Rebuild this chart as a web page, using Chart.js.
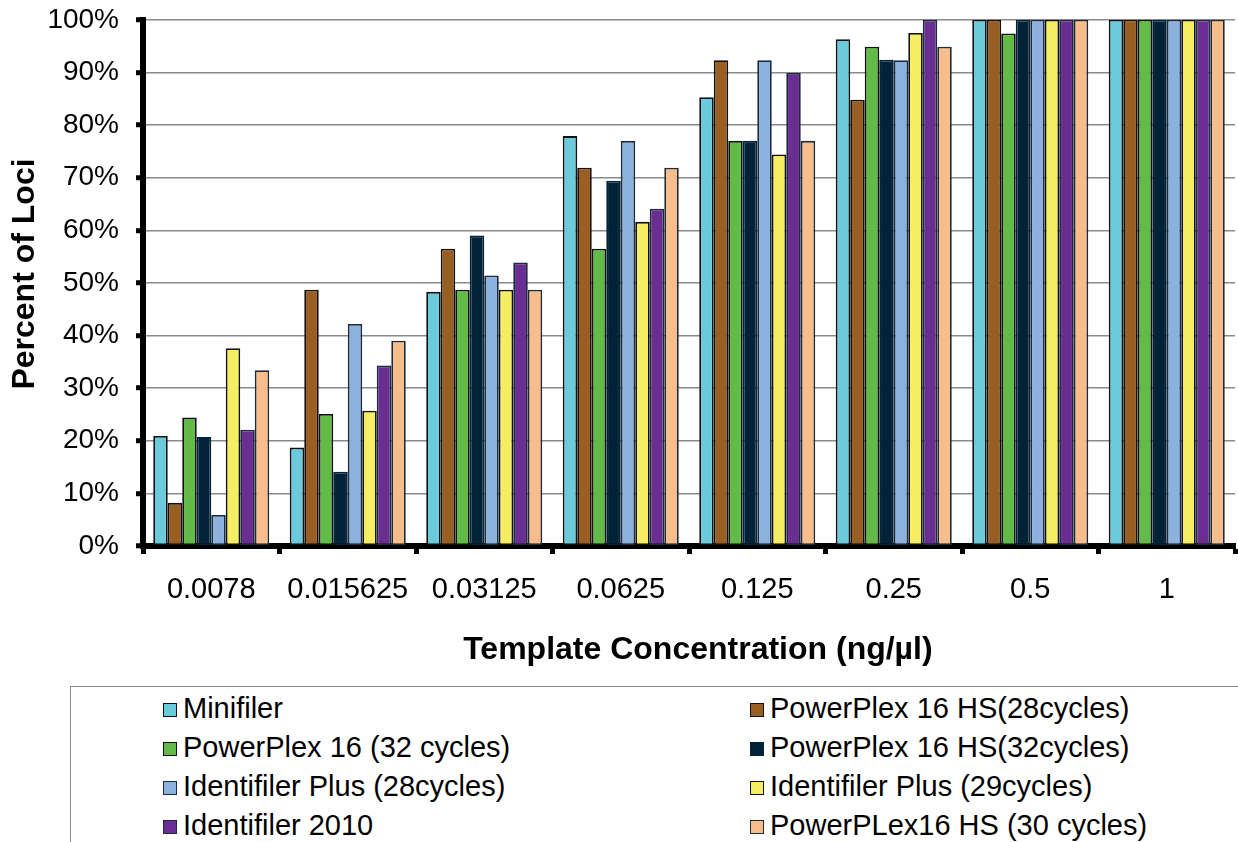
<!DOCTYPE html>
<html>
<head>
<meta charset="utf-8">
<script src="https://cdn.jsdelivr.net/npm/chart.js@4.4.1/dist/chart.umd.min.js"></script>
<style>
  body { margin: 0; background: #fff; overflow: hidden; font-family: "Liberation Sans", Arial, sans-serif; }
  #caixaGrafico { position: absolute; left: 0; top: -14px; width: 1238px; height: 694px; }
  #legenda { position: absolute; left: 70px; top: 686px; width: 1200px; height: 200px;
    border: 1px solid #8a8a8a; box-sizing: border-box; }
  .item { position: absolute; font-size: 29px; color: #000; white-space: nowrap; line-height: 32px; }
  .item span.caixa { display: inline-block; width: 12px; height: 12px; border: 1.5px solid #111;
    margin-right: 6px; vertical-align: 1px; }
</style>
</head>
<body>
<div id="caixaGrafico"><canvas id="grafico"></canvas></div>
<div id="legenda"></div>
<script>
const concentracoes = ["0.0078", "0.015625", "0.03125", "0.0625", "0.125", "0.25", "0.5", "1"];
const marcasY = [0, 10, 20, 30, 40, 50, 60, 70, 80, 90, 100];

const minifiler      = [20.9, 18.7, 48.3, 77.9, 85.3, 96.3, 100, 100];
const pp16hs28       = [8.2, 48.7, 56.5, 71.9, 92.3, 84.8, 100, 100];
const pp16ciclos32   = [24.4, 25.1, 48.7, 56.5, 77.0, 94.9, 97.4, 100];
const pp16hs32       = [20.7, 14.1, 59.0, 69.4, 77.0, 92.4, 100, 100];
const idPlus28       = [5.9, 42.2, 51.4, 77.0, 92.3, 92.3, 100, 100];
const idPlus29       = [37.6, 25.7, 48.7, 61.6, 74.4, 97.5, 100, 100];
const identifiler2010 = [22.1, 34.3, 53.9, 64.1, 89.9, 100, 100, 100];
const pplex16hs30    = [33.4, 39.0, 48.7, 71.9, 77.0, 94.9, 100, 100];

const nomesSeries = [
  "Minifiler", "PowerPlex 16 HS(28cycles)", "PowerPlex 16 (32 cycles)", "PowerPlex 16 HS(32cycles)",
  "Identifiler Plus (28cycles)", "Identifiler Plus (29cycles)", "Identifiler 2010", "PowerPLex16 HS (30 cycles)"
];
const valoresSeries = [minifiler, pp16hs28, pp16ciclos32, pp16hs32, idPlus28, idPlus29, identifiler2010, pplex16hs30];
const cores = ["#6bcbdc", "#985e22", "#62bb47", "#022237", "#8db1df", "#f5ee62", "#6a2e92", "#f9bd8b"];
const bordas = ["#111", "#111", "#111", "#022237", "#1b2b3a", "#111", "#1b2b3a", "#1b2b3a"];

const fonte = "'Liberation Sans', Arial, sans-serif";

// monta os datasets a partir das listas
const datasets = nomesSeries.map((nome, i) => ({
  label: nome,
  data: valoresSeries[i],
  backgroundColor: cores[i],
  borderColor: bordas[i],
  borderWidth: 1.8,
  borderSkipped: false,
  categoryPercentage: 0.85,
  barPercentage: 1.0,
}));

new Chart(document.getElementById("grafico"), {
  type: "bar",
  data: { labels: concentracoes, datasets: datasets },
  options: {
    responsive: true,
    maintainAspectRatio: false,
    animation: false,
    layout: { padding: { top: 5, right: 3, left: 0, bottom: 0 } },
    plugins: { legend: { display: false }, tooltip: { enabled: false } },
    scales: {
      x: {
        afterFit: (s) => { s.height = 134; },
        grid: { drawOnChartArea: false, tickColor: "#000", tickWidth: 5, tickLength: 8, offset: true },
        border: { color: "#000", width: 6 },
        ticks: { color: "#000", font: { family: fonte, size: 29 }, padding: 19, maxRotation: 0 },
        title: { display: true, text: "  Template Concentration (ng/µl)", color: "#000",
          font: { family: fonte, size: 32, weight: "bold" }, padding: { top: 0, bottom: 11 } },
      },
      y: {
        min: 0,
        max: 100,
        afterFit: (s) => { s.width = 143; },
        afterBuildTicks: (s) => { s.ticks = marcasY.map((v) => ({ value: v })); },
        grid: { color: "#8a8a8a", lineWidth: 1.5, tickColor: "#000", tickWidth: 5, tickLength: 7 },
        border: { color: "#000", width: 6 },
        ticks: { color: "#000", font: { family: fonte, size: 28 }, padding: 17,
          callback: (v) => v + "%" },
        title: { display: true, text: "  Percent of Loci", color: "#000",
          font: { family: fonte, size: 32, weight: "bold" }, padding: { top: 6, bottom: 0 } },
      },
    },
  },
});

// legenda em duas colunas, como no original
const legenda = document.getElementById("legenda");
const colunasX = [92, 679];
const linhasY = [5, 44, 83, 122];
nomesSeries.forEach((nome, i) => {
  const item = document.createElement("div");
  item.className = "item";
  item.style.left = colunasX[i % 2] + "px";
  item.style.top = linhasY[Math.floor(i / 2)] + "px";
  item.innerHTML = '<span class="caixa" style="background:' + cores[i] + ';border-color:' + bordas[i] + '"></span>' + nome;
  legenda.appendChild(item);
});
</script>
</body>
</html>
